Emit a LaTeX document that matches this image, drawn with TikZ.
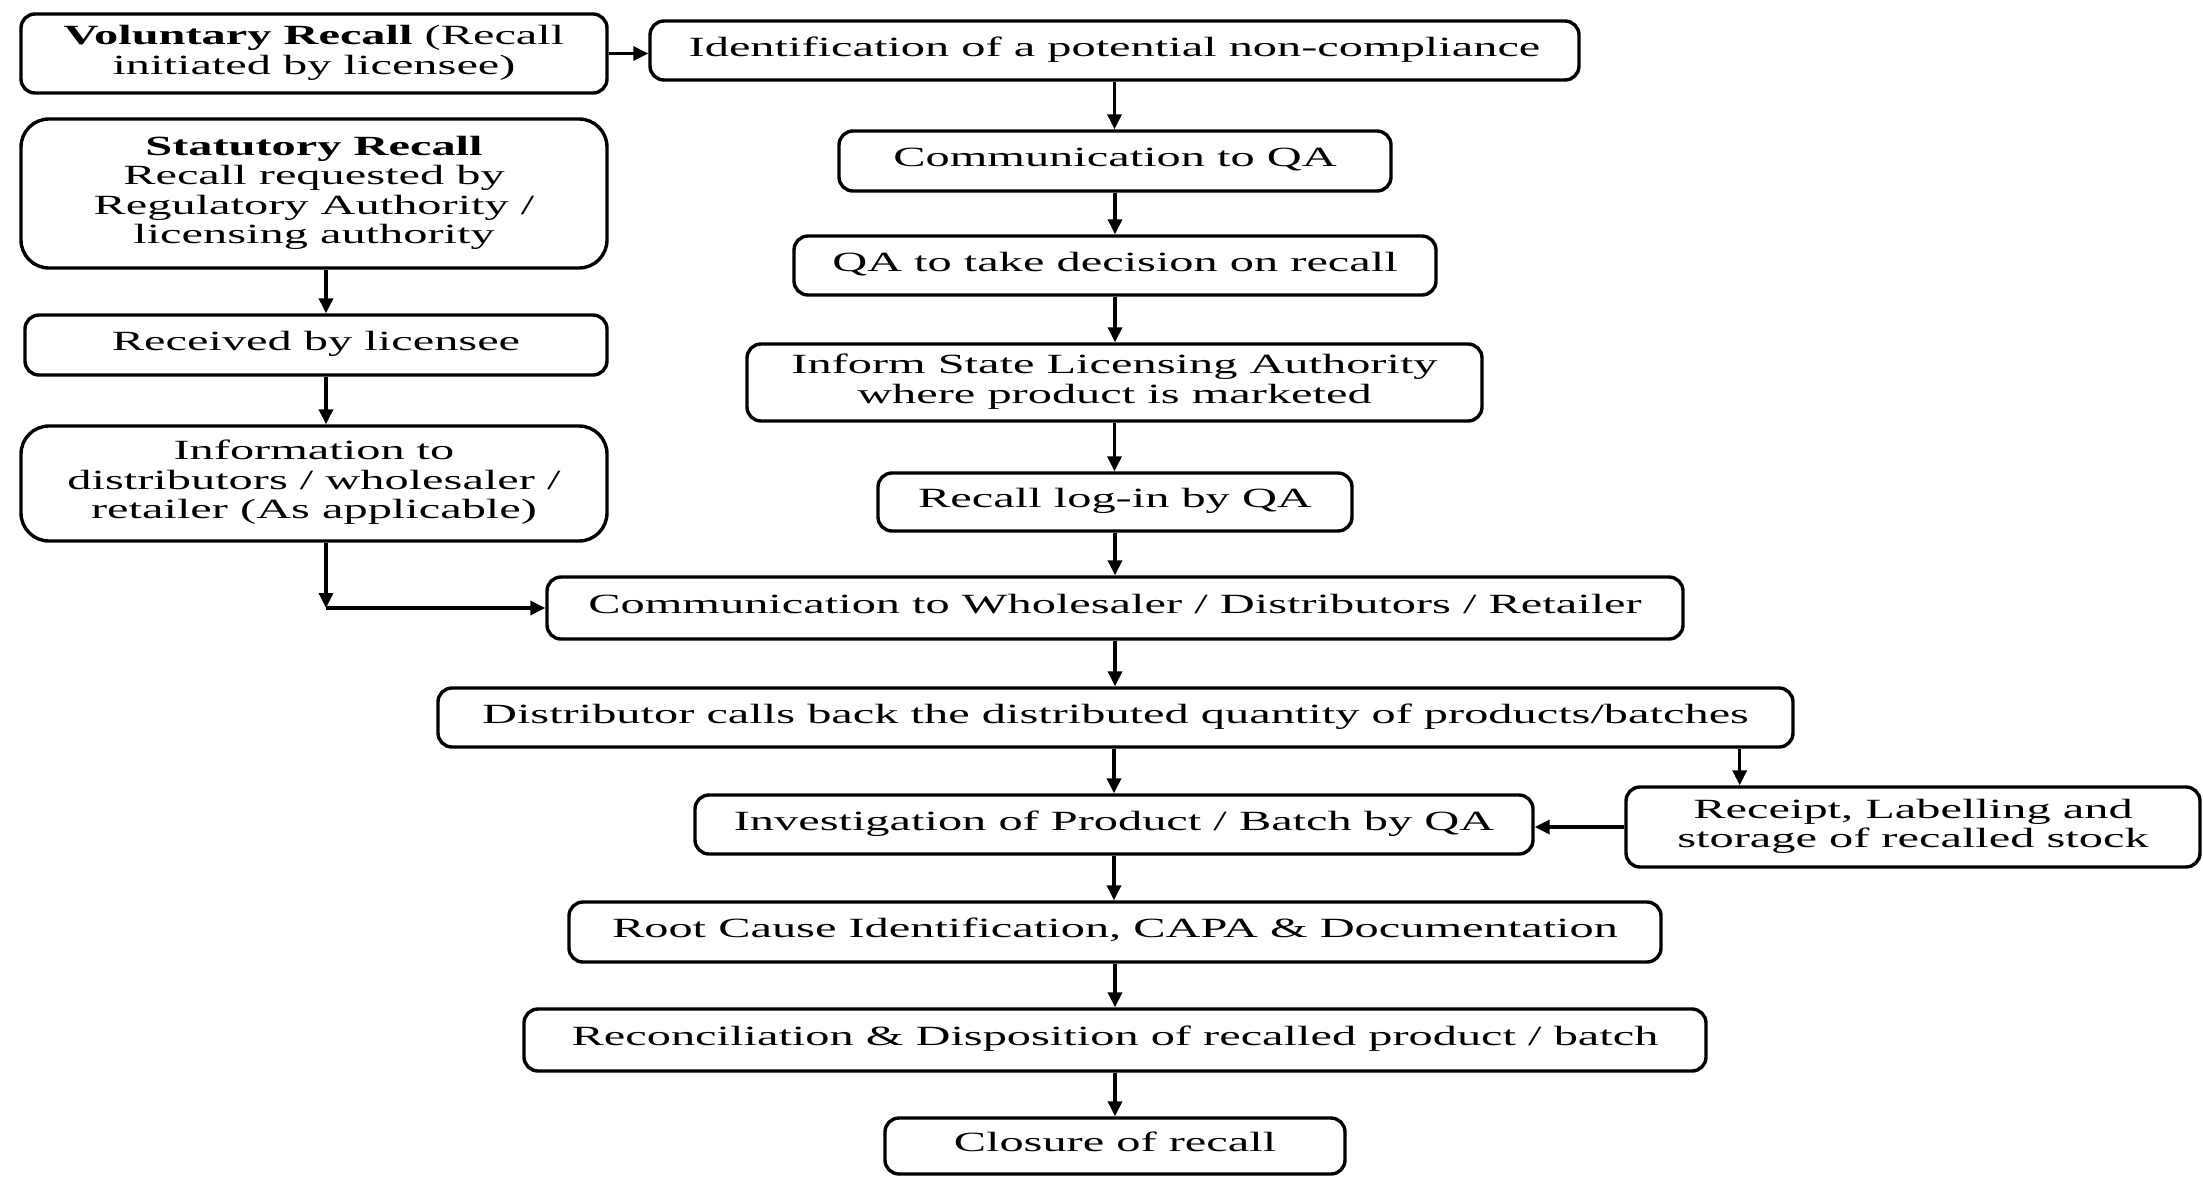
\documentclass[tikz,border=0pt]{standalone}
\usepackage{fontspec}
\setmainfont{Liberation Serif}
\usepackage{graphicx}
\usetikzlibrary{arrows.meta,calc}
\newcommand{\tx}[1]{\scalebox{1.74}[1]{\begin{tabular}{@{}c@{}}#1\end{tabular}}}
\tikzset{
  box/.style={draw, line width=3.4pt, rounded corners=14pt, inner sep=0pt, align=center,
    font=\fontsize{27.8}{29.5}\selectfont},
  bigbox/.style={box, rounded corners=28pt},
  arr/.style={line width=3.4pt, -{Triangle[length=15pt,width=14pt]}}
}
\begin{document}
\begin{tikzpicture}[x=1pt,y=-1pt]
\useasboundingbox (0,0) rectangle (2203,1176);
% left column
\node[box, minimum width=586pt, minimum height=79pt] (vol) at (314,53.5)
  {\tx{\textbf{Voluntary Recall} (Recall\\initiated by licensee)}};
\node[bigbox, minimum width=586pt, minimum height=149pt] (stat) at (314,193.5)
  {\tx{\textbf{Statutory Recall}\\Recall requested by\\Regulatory Authority /\\licensing authority}};
\node[box, minimum width=582pt, minimum height=60pt] (recv) at (316,345)
  {\tx{Received by licensee}};
\node[bigbox, minimum width=586pt, minimum height=115pt] (info) at (314,483.5)
  {\tx{Information to\\distributors / wholesaler /\\retailer (As applicable)}};
% main column
\node[box, minimum width=929pt, minimum height=59pt] (ident) at (1114.5,50.5)
  {\tx{Identification of a potential non-compliance}};
\node[box, minimum width=552pt, minimum height=60pt] (cqa) at (1115,161)
  {\tx{Communication to QA}};
\node[box, minimum width=642pt, minimum height=59pt] (dec) at (1115,265.5)
  {\tx{QA to take decision on recall}};
\node[box, minimum width=735pt, minimum height=77pt] (inform) at (1114.5,382.5)
  {\tx{Inform State Licensing Authority\\where product is marketed}};
\node[box, minimum width=474pt, minimum height=58pt] (login) at (1115,502)
  {\tx{Recall log-in by QA}};
\node[box, minimum width=1136pt, minimum height=62pt] (cws) at (1115,608)
  {\tx{Communication to Wholesaler / Distributors / Retailer}};
\node[box, minimum width=1355pt, minimum height=59pt] (dist) at (1115.5,717.5)
  {\tx{Distributor calls back the distributed quantity of products/batches}};
\node[box, minimum width=838pt, minimum height=59pt] (inv) at (1114,824.5)
  {\tx{Investigation of Product / Batch by QA}};
\node[box, minimum width=574pt, minimum height=80pt] (rec) at (1913,827)
  {\tx{Receipt, Labelling and\\storage of recalled stock}};
\node[box, minimum width=1092pt, minimum height=60pt] (root) at (1115,932)
  {\tx{Root Cause Identification, CAPA \& Documentation}};
\node[box, minimum width=1182pt, minimum height=62pt] (recon) at (1115,1040)
  {\tx{Reconciliation \& Disposition of recalled product / batch}};
\node[box, minimum width=460pt, minimum height=56pt] (clos) at (1115,1146)
  {\tx{Closure of recall}};
% connectors
\draw[arr] (vol.east) -- (vol.east -| ident.west);
\coordinate (s1) at ([xshift=12pt]stat.south);
\draw[arr] (s1) -- (s1 |- recv.north);
\coordinate (s2) at ([xshift=10pt]recv.south);
\draw[arr] (s2) -- (s2 |- info.north);
\coordinate (s3) at ([xshift=12pt]info.south);
\coordinate (corner) at (s3 |- cws.west);
\draw[arr] (s3) -- (corner);
\draw[arr] (corner) -- (cws.west);
\draw[arr] (ident.south) -- (ident.south |- cqa.north);
\draw[arr] (cqa.south) -- (cqa.south |- dec.north);
\draw[arr] (dec.south) -- (dec.south |- inform.north);
\draw[arr] (inform.south) -- (inform.south |- login.north);
\draw[arr] (login.south) -- (login.south |- cws.north);
\draw[arr] (cws.south) -- (cws.south |- dist.north);
\draw[arr] (dist.south -| inv.north) -- (inv.north);
\coordinate (d2) at ([xshift=-55pt]dist.south east);
\draw[arr] (d2) -- (d2 |- rec.north);
\draw[arr] (rec.west) -- (rec.west -| inv.east);
\draw[arr] (inv.south) -- (inv.south |- root.north);
\draw[arr] (root.south) -- (root.south |- recon.north);
\draw[arr] (recon.south) -- (recon.south |- clos.north);
\end{tikzpicture}
\end{document}
